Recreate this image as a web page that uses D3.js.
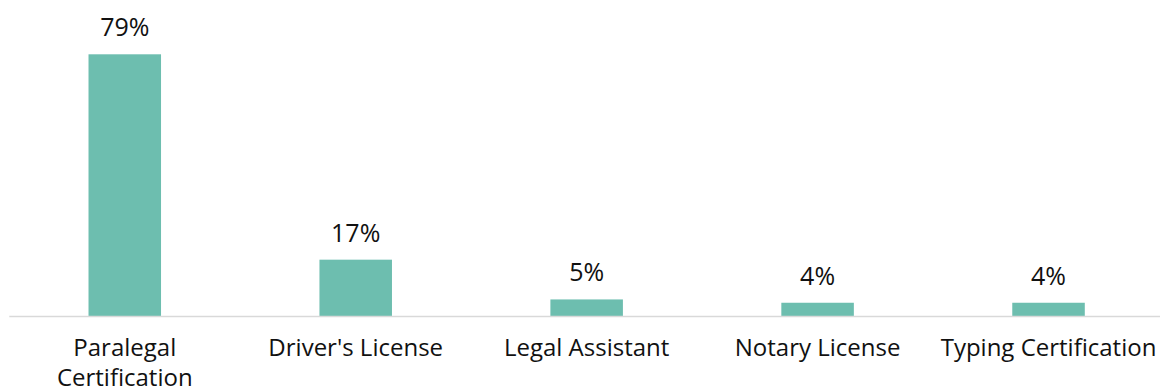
<!DOCTYPE html>
<html>
<head>
<meta charset="utf-8">
<script src="https://cdn.jsdelivr.net/npm/d3@7"></script>
<style>
  body { margin: 0; background: #fff; }
  text { font-family: "Open Sans", sans-serif; fill: #111; }
</style>
</head>
<body>
<script>
const categories = ["Paralegal Certification", "Driver's License", "Legal Assistant", "Notary License", "Typing Certification"];
// label lines as shown under the axis
const labelLines = [["Paralegal", "Certification"], ["Driver's License"], ["Legal Assistant"], ["Notary License"], ["Typing Certification"]];
const values = [0.79, 0.17, 0.05, 0.04, 0.04];

const width = 1160, height = 387;
const margin = { top: 54.3, right: -4, bottom: 71, left: 9.3 };

const svg = d3.select("body").append("svg")
  .attr("width", width)
  .attr("height", height);

const x = d3.scaleBand()
  .domain(categories)
  .range([margin.left, width - margin.right])
  .paddingInner(0.686)
  .paddingOuter(0.343);

const y = d3.scaleLinear()
  .domain([0, d3.max(values)])
  .range([height - margin.bottom, margin.top]);

const data = categories.map((c, i) => ({ c, v: values[i], lines: labelLines[i] }));

// bars
svg.append("g")
  .selectAll("rect")
  .data(data)
  .join("rect")
  .attr("x", d => x(d.c))
  .attr("y", d => y(d.v))
  .attr("width", x.bandwidth())
  .attr("height", d => y(0) - y(d.v))
  .attr("fill", "#6dbeaf");

// baseline
svg.append("line")
  .attr("x1", margin.left)
  .attr("x2", width)
  .attr("y1", y(0) + 0.5)
  .attr("y2", y(0) + 0.5)
  .attr("stroke", "#d9d9d9")
  .attr("stroke-width", 1.5);

// value labels
svg.append("g")
  .selectAll("text")
  .data(data)
  .join("text")
  .attr("x", d => x(d.c) + x.bandwidth() / 2)
  .attr("y", d => y(d.v) - 18)
  .attr("text-anchor", "middle")
  .style("font-size", "25px")
  .text(d => d3.format(".0%")(d.v));

// category labels
const cat = svg.append("g")
  .selectAll("text")
  .data(data)
  .join("text")
  .attr("x", d => x(d.c) + x.bandwidth() / 2)
  .attr("y", y(0) + 40)
  .attr("text-anchor", "middle")
  .style("font-size", "24px");

cat.selectAll("tspan")
  .data(d => d.lines.map(l => ({ l, cx: x(d.c) + x.bandwidth() / 2 })))
  .join("tspan")
  .attr("x", d => d.cx)
  .attr("dy", (d, i) => i ? 30 : 0)
  .text(d => d.l);
</script>
</body>
</html>
